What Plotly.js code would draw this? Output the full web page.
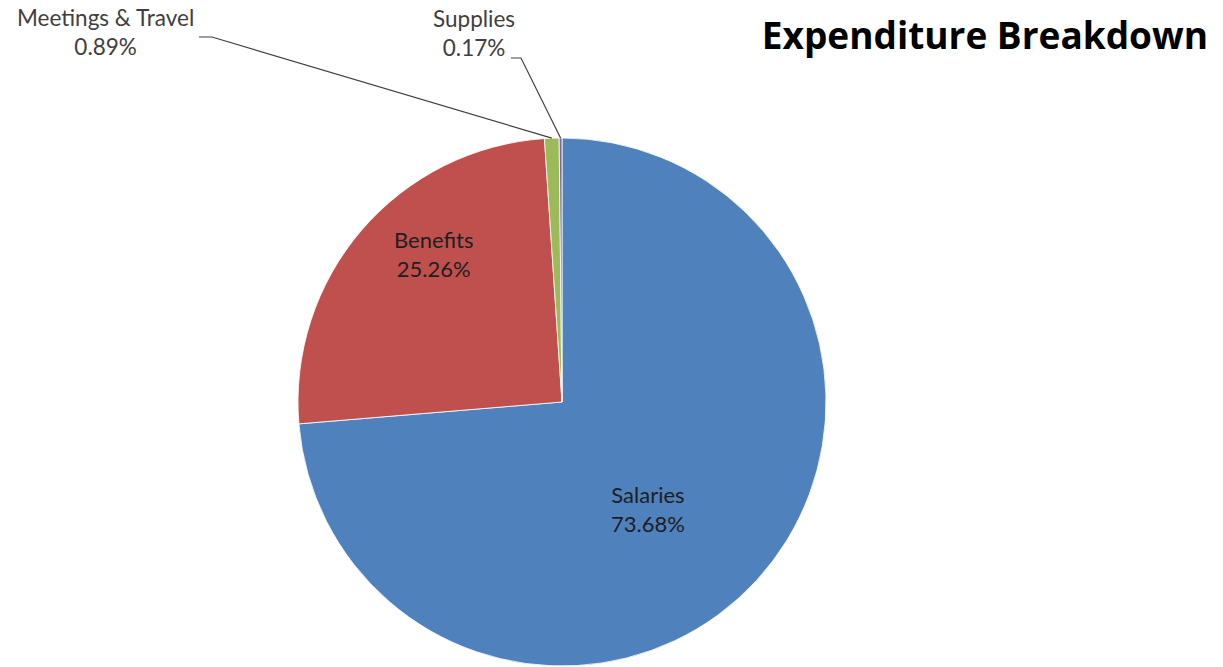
<!DOCTYPE html>
<html>
<head>
<meta charset="utf-8">
<script src="https://cdn.plot.ly/plotly-3.0.1.min.js"></script>
<style>html,body{margin:0;padding:0;background:#fff;}#chart{width:1223px;height:667px;}</style>
</head>
<body>
<div id="chart"></div>
<script>
const labels = ['Salaries', 'Benefits', 'Meetings & Travel', 'Supplies'];
const values = [73.68, 25.26, 0.89, 0.17];
const colors = ['#4F81BD', '#C0504D', '#9BBB59', '#8064A2'];
const chartTitle = 'Expenditure Breakdown';

const W = 1223, H = 667;
const CX = 562, CY = 402, R = 264;
const px = x => x / W;
const py = y => 1 - y / H;
const total = values.reduce((a, b) => a + b, 0);
const pctText = i => (values[i] / total * 100).toFixed(2) + '%';

function edgePoint(i) {
  let cum = 0;
  for (let k = 0; k < i; k++) cum += values[k];
  const frac = (cum + values[i] / 2) / total;
  const a = 2 * Math.PI * frac;
  return [CX + R * Math.sin(a), CY - R * Math.cos(a)];
}

const trace = {
  type: 'pie',
  labels: labels,
  values: values,
  sort: false,
  direction: 'clockwise',
  rotation: 0,
  marker: {colors: colors, line: {color: '#ffffff', width: 0.8}},
  textinfo: 'none',
  hoverinfo: 'label+percent',
  domain: {x: [px(CX - R), px(CX + R)], y: [py(CY + R), py(CY - R)]},
  showlegend: false
};

// label placement (pixels): inside labels and outside labels with leader lines
const labelPlacement = [
  {i: 0, tx: 648, ty: 509, color: '#1e1e1e', size: 22},
  {i: 1, tx: 433, ty: 254, color: '#1e1e1e', size: 22},
  {i: 2, tx: 105, ty: 32, color: '#404040', size: 22.5, from: [199, 37], bend: [212, 37]},
  {i: 3, tx: 474, ty: 33, color: '#404040', size: 22.5, from: [511, 58], bend: [521, 58]}
];

const annotations = labelPlacement.map(o => ({
  xref: 'paper', yref: 'paper', x: px(o.tx), y: py(o.ty),
  xanchor: 'center', yanchor: 'middle', showarrow: false,
  text: labels[o.i] + '<br>' + pctText(o.i),
  font: {family: 'Lato, sans-serif', size: o.size, color: o.color}
}));

const shapes = labelPlacement.filter(o => o.from).map(o => {
  const e = edgePoint(o.i);
  return {
    type: 'path', xref: 'paper', yref: 'paper',
    path: `M ${px(o.from[0])} ${py(o.from[1])} L ${px(o.bend[0])} ${py(o.bend[1])} L ${px(e[0])} ${py(e[1])}`,
    line: {color: '#404040', width: 1.2}
  };
});

const layout = {
  width: W, height: H,
  margin: {l: 0, r: 0, t: 0, b: 0},
  paper_bgcolor: '#ffffff',
  title: {
    text: chartTitle,
    x: px(1208), xanchor: 'right', xref: 'paper',
    y: py(36), yanchor: 'middle', yref: 'paper',
    font: {family: '"Open Sans", sans-serif', size: 37, weight: 700, color: '#000000'}
  },
  annotations: annotations,
  shapes: shapes
};

Plotly.newPlot('chart', [trace], layout, {displayModeBar: false, staticPlot: true});
</script>
</body>
</html>
